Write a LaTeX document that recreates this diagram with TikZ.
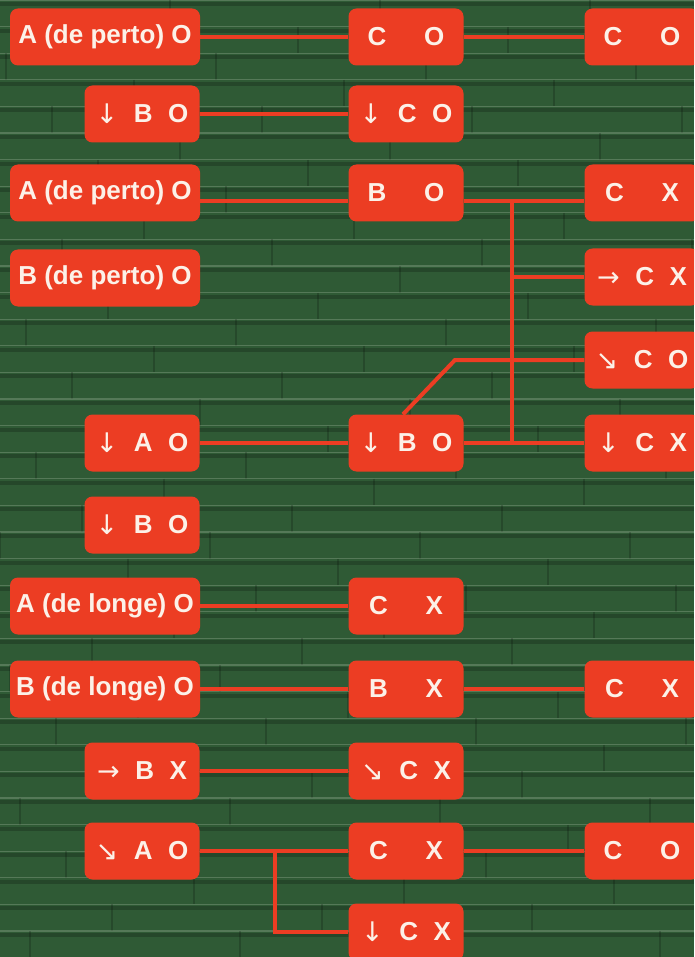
\documentclass[tikz,border=0pt]{standalone}
\usepackage{fontspec}
\setmainfont{Liberation Sans}
\newfontfamily\arrowfont{DejaVu Sans}
\usetikzlibrary{calc}
\definecolor{brickred}{HTML}{EC3D23}
\definecolor{wallgreen}{HTML}{2F5A35}
\definecolor{mortar}{HTML}{9DB59A}
\definecolor{chalk}{HTML}{FCF1E8}
\newcommand\widegap{\hspace{1.45em}}
\newcommand\smallgap{\hspace{.6em}}
\newcommand\arrD{\raisebox{-1pt}{\arrowfont\mdseries\fontsize{27}{26}\selectfont ↓}}
\newcommand\arrR{\raisebox{-1pt}{\arrowfont\mdseries\fontsize{27}{26}\selectfont →}}
\newcommand\arrSE{\raisebox{-1pt}{\arrowfont\mdseries\fontsize{27}{26}\selectfont ↘}}
\tikzset{cell/.style={fill=brickred,rounded corners=8pt,text=chalk,inner sep=0pt,
  font=\bfseries\fontsize{26}{28}\selectfont,minimum height=57pt},
  wide/.style={cell,minimum width=190pt},
  short/.style={cell,minimum width=115pt},
  wire/.style={draw=brickred,line width=4pt}}

\begin{document}
\begin{tikzpicture}[x=1pt,y=-1pt]
\useasboundingbox (0,0) rectangle (694,957);
\clip (0,0) rectangle (694,957);
% brick wall
\fill[wallgreen] (0,0) rectangle (694,957);
\foreach \i in {0,...,36}{
  \fill[black!40!wallgreen,opacity=.5] (0,\i*26.6+2) rectangle (694,\i*26.6+6);
  \draw[mortar,opacity=.35,line width=1.2pt] (0,\i*26.6) -- (694,\i*26.6);
  \foreach \j in {0,...,3}
    \draw[black,opacity=.18,line width=1.5pt]
      ({mod(\j*210+mod(\i,2)*105+\i*23,840)-40},\i*26.6) -- ++(0,26.6);
}
% row 1
\node[wide] (aperto1) at (105,37) {A (de perto) O};
\node[short] (co1) at (406,37) {C\widegap O};
\node[short] (co2) at (642,37) {C\widegap O};
% row 2
\node[short] (dbo1) at (142,114) {\arrD\smallgap B\smallgap O};
\node[short] (dco) at (406,114) {\arrD\smallgap C\smallgap O};
% row 3
\node[wide] (aperto2) at (105,193) {A (de perto) O};
\node[short] (bo) at (406,193) {B\widegap O};
\node[short] (cx1) at (642,193) {C\widegap X};
% row 4
\node[wide] (bperto) at (105,278) {B (de perto) O};
\node[short] (rcx) at (642,277) {\arrR\smallgap C\smallgap X};
% row 5
\node[short] (seco) at (642,360) {\arrSE\smallgap C\smallgap O};
% row 6
\node[short] (dao) at (142,443) {\arrD\smallgap A\smallgap O};
\node[short] (dbo2) at (406,443) {\arrD\smallgap B\smallgap O};
\node[short] (dcx1) at (642,443) {\arrD\smallgap C\smallgap X};
% row 7
\node[short] (dbo3) at (142,525) {\arrD\smallgap B\smallgap O};
% row 8
\node[wide] (alonge) at (105,606) {A (de longe) O};
\node[short] (cx2) at (406,606) {C\widegap X};
% row 9
\node[wide] (blonge) at (105,689) {B (de longe) O};
\node[short] (bx) at (406,689) {B\widegap X};
\node[short] (cx3) at (642,689) {C\widegap X};
% row 10
\node[short] (rbx) at (142,771) {\arrR\smallgap B\smallgap X};
\node[short] (secx) at (406,771) {\arrSE\smallgap C\smallgap X};
% row 11
\node[short] (seao) at (142,851) {\arrSE\smallgap A\smallgap O};
\node[short] (cx4) at (406,851) {C\widegap X};
\node[short] (co3) at (642,851) {C\widegap O};
% row 12
\node[short] (dcx2) at (406,932) {\arrD\smallgap C\smallgap X};
% connectors
\draw[wire] (aperto1) -- (co1) -- (co2);
\draw[wire] (dbo1) -- (dco);
\draw[wire] ([yshift=-8pt]aperto2.east) -- ([yshift=-8pt]bo.west);
\draw[wire] ([yshift=-8pt]bo.east) -- ([yshift=-8pt]cx1.west);
\coordinate (fork) at (512,201);
\draw[wire] (fork) -- (fork |- dcx1);
\draw[wire] (fork |- rcx) -- (rcx);
\coordinate (knee) at (455,360);
\draw[wire] (seco) -- (knee) -- ([xshift=-3pt]dbo2.north);
\draw[wire] (dao) -- (dbo2) -- (dcx1);
\draw[wire] (alonge) -- (cx2);
\draw[wire] (blonge) -- (bx) -- (cx3);
\draw[wire] (rbx) -- (secx);
\draw[wire] (seao) -- (cx4) -- (co3);
\coordinate (tap) at (275,851);
\draw[wire] (tap) |- (dcx2);
\end{tikzpicture}
\end{document}
